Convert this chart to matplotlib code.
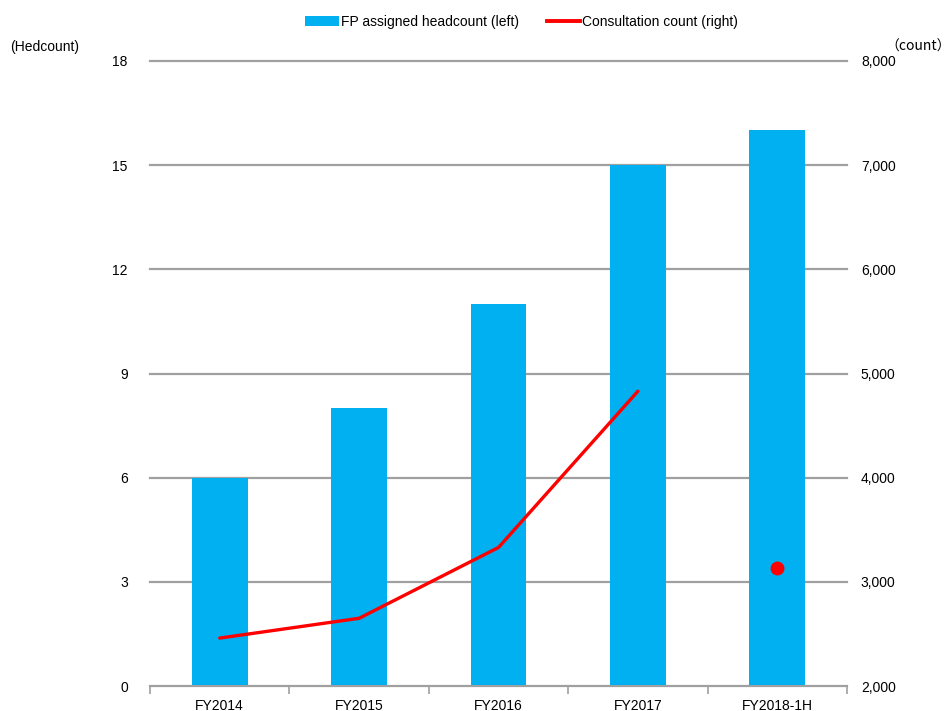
import numpy as np
import matplotlib
matplotlib.use("Agg")
import matplotlib.pyplot as plt
from matplotlib.lines import Line2D
from matplotlib.patches import Patch

plt.rcParams['font.family'] = ['Liberation Sans Narrow', 'Liberation Sans', 'DejaVu Sans']

categories = ["FY2014", "FY2015", "FY2016", "FY2017", "FY2018-1H"]
headcount = [6, 8, 11, 15, 16]
consult_years = ["FY2014", "FY2015", "FY2016", "FY2017"]
consult_counts = [2460, 2650, 3330, 4830]
consult_1h = 3130

left_ticks = [0, 3, 6, 9, 12, 15, 18]
right_ticks = [2000, 3000, 4000, 5000, 6000, 7000, 8000]

blue = "#00B0F0"
red = "#FF0000"
grid_col = "#A0A0A0"

fig = plt.figure(figsize=(9.52, 7.11), dpi=100)
ax = fig.add_axes([150 / 952, 25 / 711, 697 / 952, 625 / 711])
ax2 = ax.twinx()

x = np.arange(len(categories))
ax.bar(x, headcount, width=0.4, color=blue, zorder=2)
ax.set_xlim(-0.5, len(categories) - 0.5)
ax.set_ylim(0, 18)
ax.set_yticks(left_ticks)
ax.yaxis.grid(True, color=grid_col, linewidth=1.6, zorder=0)
for gl in ax.yaxis.get_gridlines():
    gl.set_clip_on(False)
ax.set_axisbelow(True)

ax.set_xticks(x)
ax.set_xticklabels(categories)
ax.set_xticks(np.arange(-0.5, len(categories), 1), minor=True)
ax.tick_params(axis='x', which='major', length=0, pad=9, labelsize=10)
ax.tick_params(axis='x', which='minor', length=6, color=grid_col, width=1.2)
ax.tick_params(axis='y', length=0, pad=16, labelsize=10)

xc = [categories.index(c) for c in consult_years]
ax2.plot(xc, consult_counts, color=red, linewidth=2.4, solid_capstyle='round', zorder=3)
ax2.plot([categories.index("FY2018-1H")], [consult_1h], 'o', color=red, markersize=9, zorder=3)
ax2.set_ylim(2000, 8000)
ax2.set_yticks(right_ticks)
ax2.set_yticklabels([f"{v:,}" for v in right_ticks])
ax2.tick_params(axis='y', length=0, pad=10, labelsize=10)

for a in (ax, ax2):
    for s in ("top", "left", "right"):
        a.spines[s].set_visible(False)
    a.spines["bottom"].set_color(grid_col)
    a.spines["bottom"].set_linewidth(1.2)

handles = [Patch(facecolor=blue, edgecolor='none'),
           Line2D([0], [0], color=red, linewidth=2.8)]
fig.legend(handles, ["FP assigned headcount (left)", "Consultation count (right)"],
           loc='center', bbox_to_anchor=(0.548, 1 - 22 / 711), ncol=2, frameon=False,
           fontsize=10, handlelength=2.4, handleheight=0.8, columnspacing=2.0,
           handletextpad=0.15)

fig.text(10 / 952, 1 - 47 / 711, "(Hedcount)", fontsize=10, va='center', ha='left')
fig.text(951 / 952, 1 - 47 / 711, "（count）", fontsize=10, va='center', ha='right',
         family=['Noto Sans CJK JP', 'DejaVu Sans'])

fig.savefig("out.png", dpi=100)
